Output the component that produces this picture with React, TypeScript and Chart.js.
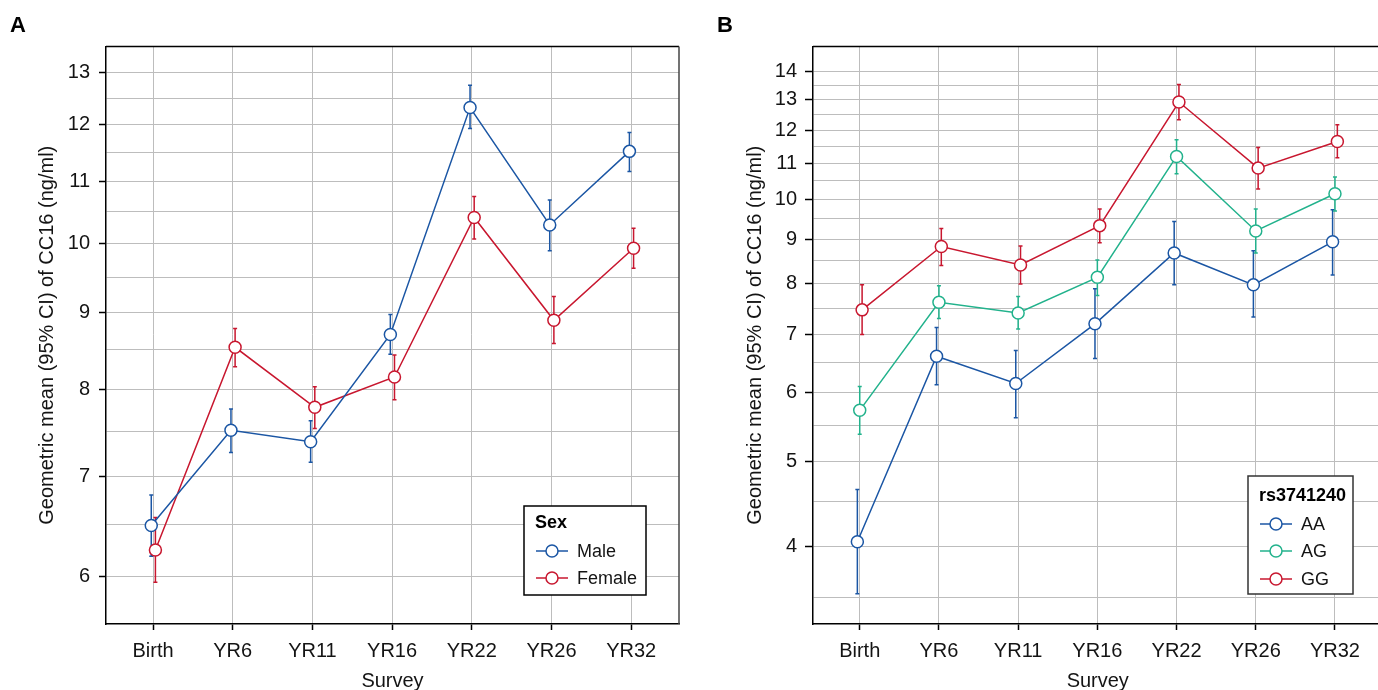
import React, { useEffect, useRef } from "react";
import { Chart, registerables } from "chart.js";

Chart.register(...registerables);

const FONT = "'Liberation Sans', Arial, Helvetica, sans-serif";
Chart.defaults.font.family = FONT;

// ---------- data ----------
const surveys = ["Birth", "YR6", "YR11", "YR16", "YR22", "YR26", "YR32"];

const maleMean = [6.49, 7.51, 7.38, 8.7, 12.32, 10.29, 11.52];
const maleLow = [6.19, 7.26, 7.15, 8.44, 11.93, 9.89, 11.17];
const maleHigh = [6.8, 7.76, 7.62, 8.97, 12.75, 10.69, 11.86];

const femaleMean = [6.25, 8.53, 7.78, 8.15, 10.41, 8.89, 9.93];
const femaleLow = [5.95, 8.28, 7.53, 7.87, 10.07, 8.58, 9.63];
const femaleHigh = [6.57, 8.78, 8.03, 8.43, 10.75, 9.22, 10.24];

const aaMean = [4.05, 6.61, 6.15, 7.2, 8.68, 7.98, 8.94];
const aaLow = [3.53, 6.13, 5.62, 6.57, 7.98, 7.33, 8.19];
const aaHigh = [4.65, 7.13, 6.71, 7.9, 9.43, 8.73, 9.73];

const agMean = [5.73, 7.62, 7.41, 8.14, 11.2, 9.2, 10.15];
const agLow = [5.38, 7.3, 7.1, 7.76, 10.7, 8.68, 9.7];
const agHigh = [6.1, 7.96, 7.74, 8.52, 11.7, 9.75, 10.61];

const ggMean = [7.47, 8.83, 8.41, 9.33, 12.93, 10.86, 11.65];
const ggLow = [7.0, 8.4, 8.0, 8.92, 12.34, 10.28, 11.16];
const ggHigh = [7.98, 9.26, 8.84, 9.75, 13.54, 11.47, 12.18];

const yMajorA = [6, 7, 8, 9, 10, 11, 12, 13];
const yMinorA = [6.5, 7.5, 8.5, 9.5, 10.5, 11.5, 12.5];
const yMajorB = [4, 5, 6, 7, 8, 9, 10, 11, 12, 13, 14];
const yMinorB = [3.5, 4.5, 5.5, 6.5, 7.5, 8.5, 9.5, 10.5, 11.5, 12.5, 13.5];

const yTitle = "Geometric mean (95% CI) of CC16 (ng/ml)";
const xTitle = "Survey";

const BLUE = "#1b56a4";
const RED = "#c8172f";
const TEAL = "#22b28c";
const GRID = "#bdbdbd";
const TEXT = "#141414";

type Series = { label: string; mean: number[]; low: number[]; high: number[]; color: string; dodge: number };

type Panel = {
  letter: string;
  letterX: number;
  series: Series[];
  legendTitle: string;
  legendBox: { x: number; y: number; w: number; h: number; border: string };
  legendTitleY: number;
  legendRowY: number[];
  yMin: number;
  yMax: number;
  majors: number[];
  minors: number[];
  yWidth: number;
  yTickLen: number;
  yTickPad: number;
  yTitlePad: number;
  padRight: number;
  rightBorder: boolean;
};

const errorBarPlugin = {
  id: "errorBars",
  beforeDatasetsDraw(chart: any) {
    const ctx = chart.ctx;
    const xs = chart.scales.x;
    const ys = chart.scales.y;
    chart.data.datasets.forEach((ds: any) => {
      ctx.save();
      ctx.strokeStyle = ds.borderColor;
      ctx.lineWidth = 1.5;
      ds.data.forEach((pt: any, i: number) => {
        const x = xs.getPixelForValue(pt.x);
        const y1 = ys.getPixelForValue(ds.low[i]);
        const y2 = ys.getPixelForValue(ds.high[i]);
        ctx.beginPath();
        ctx.moveTo(x, y1);
        ctx.lineTo(x, y2);
        ctx.moveTo(x - 2, y1);
        ctx.lineTo(x + 2, y1);
        ctx.moveTo(x - 2, y2);
        ctx.lineTo(x + 2, y2);
        ctx.stroke();
      });
      ctx.restore();
    });
  },
};

function decorPlugin(p: Panel) {
  return {
    id: "decor" + p.letter,
    afterDraw(chart: any) {
      const ctx = chart.ctx;
      const a = chart.chartArea;
      ctx.save();
      // frame top / right
      ctx.lineWidth = 1.5;
      ctx.strokeStyle = "#000";
      ctx.beginPath();
      ctx.moveTo(a.left, a.top);
      ctx.lineTo(a.right, a.top);
      ctx.stroke();
      if (p.rightBorder) {
        ctx.strokeStyle = "#444";
        ctx.beginPath();
        ctx.moveTo(a.right, a.top);
        ctx.lineTo(a.right, a.bottom);
        ctx.stroke();
      }
      // panel letter
      ctx.fillStyle = "#000";
      ctx.font = `bold 22px ${FONT}`;
      ctx.textBaseline = "alphabetic";
      ctx.textAlign = "left";
      ctx.fillText(p.letter, p.letterX, 32);
      // legend
      const b = p.legendBox;
      ctx.fillStyle = "#fff";
      ctx.fillRect(b.x, b.y, b.w, b.h);
      ctx.strokeStyle = b.border;
      ctx.lineWidth = 1.5;
      ctx.strokeRect(b.x, b.y, b.w, b.h);
      ctx.fillStyle = "#000";
      ctx.font = `bold 18px ${FONT}`;
      ctx.textBaseline = "middle";
      ctx.fillText(p.legendTitle, b.x + 11, p.legendTitleY);
      ctx.font = `18px ${FONT}`;
      p.series.forEach((s, i) => {
        const y = p.legendRowY[i];
        const x0 = b.x + 12;
        ctx.strokeStyle = s.color;
        ctx.lineWidth = 1.5;
        ctx.beginPath();
        ctx.moveTo(x0, y);
        ctx.lineTo(x0 + 32, y);
        ctx.stroke();
        ctx.beginPath();
        ctx.arc(x0 + 16, y, 6, 0, Math.PI * 2);
        ctx.fillStyle = "#fff";
        ctx.fill();
        ctx.stroke();
        ctx.fillStyle = TEXT;
        ctx.fillText(s.label, x0 + 41, y + 1);
      });
      ctx.restore();
    },
  };
}

function buildConfig(p: Panel): any {
  const allTicks = [...p.majors, ...p.minors].sort((a, b) => a - b);
  const isMajor = (v: number) => p.majors.includes(v);
  return {
    type: "line",
    data: {
      datasets: p.series.map((s) => ({
        label: s.label,
        data: s.mean.map((v, i) => ({ x: i + s.dodge, y: v })),
        low: s.low,
        high: s.high,
        borderColor: s.color,
        backgroundColor: "#fff",
        pointBackgroundColor: "#fff",
        pointBorderColor: s.color,
        pointRadius: 6,
        pointBorderWidth: 1.5,
        borderWidth: 1.5,
        tension: 0,
        fill: false,
      })),
    },
    options: {
      responsive: false,
      animation: false,
      events: [],
      layout: { padding: { top: 46.5, left: 0, right: p.padRight, bottom: 0 } },
      plugins: { legend: { display: false }, tooltip: { enabled: false } },
      scales: {
        x: {
          type: "linear",
          min: -0.59,
          max: 6.6,
          afterBuildTicks: (s: any) => {
            s.ticks = surveys.map((_, i) => ({ value: i }));
          },
          afterFit: (s: any) => {
            s.height = 76;
          },
          ticks: {
            callback: (v: any) => surveys[Math.round(Number(v))] ?? "",
            autoSkip: false,
            maxRotation: 0,
            padding: 9,
            color: TEXT,
            font: { size: 20, family: FONT },
          },
          grid: { color: GRID, lineWidth: 1, tickLength: 6, tickColor: "#000", tickWidth: 1.5 },
          border: { color: "#000", width: 1.5 },
          title: {
            display: true,
            text: xTitle,
            color: TEXT,
            font: { size: 20, family: FONT },
            padding: { top: 0, bottom: 7 },
          },
        },
        y: {
          type: "logarithmic",
          min: p.yMin,
          max: p.yMax,
          afterBuildTicks: (s: any) => {
            s.ticks = allTicks.map((v) => ({ value: v }));
          },
          afterFit: (s: any) => {
            s.width = p.yWidth;
          },
          ticks: {
            callback: (v: any) => (isMajor(Number(v)) ? String(v) : ""),
            autoSkip: false,
            padding: p.yTickPad,
            color: TEXT,
            font: { size: 20, family: FONT },
          },
          grid: {
            color: GRID,
            lineWidth: 1,
            tickLength: p.yTickLen,
            tickWidth: 1.5,
            tickColor: (c: any) => (c.tick && isMajor(c.tick.value) ? "#000" : "rgba(0,0,0,0)"),
          },
          border: { color: "#000", width: 1.5 },
          title: {
            display: true,
            text: yTitle,
            color: TEXT,
            font: { size: 20, family: FONT },
            padding: { top: p.yTitlePad, bottom: 0 },
          },
        },
      },
    },
    plugins: [errorBarPlugin, decorPlugin(p)],
  };
}

const panelA: Panel = {
  letter: "A",
  letterX: 10,
  series: [
    { label: "Male", mean: maleMean, low: maleLow, high: maleHigh, color: BLUE, dodge: -0.022 },
    { label: "Female", mean: femaleMean, low: femaleLow, high: femaleHigh, color: RED, dodge: 0.03 },
  ],
  legendTitle: "Sex",
  legendBox: { x: 524, y: 506, w: 122, h: 89, border: "#000" },
  legendTitleY: 523,
  legendRowY: [551, 578],
  yMin: 5.58,
  yMax: 13.53,
  majors: yMajorA,
  minors: yMinorA,
  yWidth: 106,
  yTickLen: 7,
  yTickPad: 9,
  yTitlePad: 35,
  padRight: 10,
  rightBorder: true,
};

const panelB: Panel = {
  letter: "B",
  letterX: 17,
  series: [
    { label: "AA", mean: aaMean, low: aaLow, high: aaHigh, color: BLUE, dodge: -0.03 },
    { label: "AG", mean: agMean, low: agLow, high: agHigh, color: TEAL, dodge: 0 },
    { label: "GG", mean: ggMean, low: ggLow, high: ggHigh, color: RED, dodge: 0.03 },
  ],
  legendTitle: "rs3741240",
  legendBox: { x: 548, y: 476, w: 105, h: 118, border: "#333" },
  legendTitleY: 496,
  legendRowY: [524, 551, 579],
  yMin: 3.26,
  yMax: 14.97,
  majors: yMajorB,
  minors: yMinorB,
  yWidth: 113,
  yTickLen: 8,
  yTickPad: 8,
  yTitlePad: 43,
  padRight: 4,
  rightBorder: false,
};

function ChartPanel({ panel, left, width }: { panel: Panel; left: number; width: number }) {
  const ref = useRef<HTMLCanvasElement | null>(null);
  useEffect(() => {
    if (!ref.current) return;
    const chart = new Chart(ref.current, buildConfig(panel));
    return () => chart.destroy();
  }, [panel]);
  return (
    <canvas
      ref={ref}
      width={width}
      height={700}
      style={{ position: "absolute", left, top: 0, width, height: 700, display: "block" }}
    />
  );
}

export default function App() {
  return (
    <div
      style={{
        position: "fixed",
        left: 0,
        top: 0,
        width: 1378,
        height: 690,
        overflow: "hidden",
        background: "#fff",
      }}
    >
      <ChartPanel panel={panelA} left={0} width={689} />
      <ChartPanel panel={panelB} left={700} width={690} />
    </div>
  );
}
